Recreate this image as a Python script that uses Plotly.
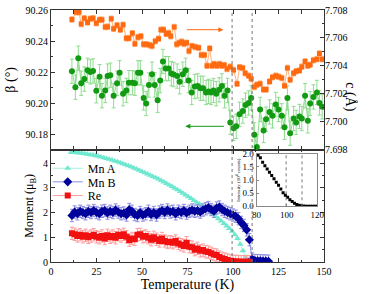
import plotly.graph_objects as go

FONT = "Liberation Serif"

# ---------------- top panel data ----------------
c_T = [11.5, 13.9, 15.4, 16.6, 18.3, 20.1, 21.6, 23.1, 24.9, 26.7, 28.0, 29.8, 31.1, 33.1, 34.4, 36.3,
       38.1, 39.6, 41.4, 42.8, 44.7, 46.1, 47.8, 49.4, 50.9, 52.3, 54.2, 55.5, 57.3, 59.1, 60.4, 61.8,
       63.3, 64.6, 65.8, 67.7, 69.1, 70.6, 71.8, 73.1, 74.5, 75.8, 77.5, 79.3, 81.1, 82.6, 84.3, 85.7,
       87.2, 88.5, 89.7, 91.2, 92.6, 93.9, 95.2, 96.7, 98.5, 100.3, 102.2, 103.6, 105.3, 106.7, 108.6,
       110.0, 111.7, 113.1, 114.9, 116.8, 118.2, 120.1, 121.7, 123.5, 125.0, 126.8, 128.3, 129.9, 131.4,
       133.3, 134.7, 136.5, 137.8, 139.6, 141.1, 142.4, 144.2, 146.1, 147.5, 149.0]
c_val = [7.70732, 7.70784, 7.70784, 7.70699, 7.70741, 7.70711, 7.70737, 7.70741, 7.70706, 7.70730,
         7.70730, 7.70678, 7.70680, 7.70737, 7.70666, 7.70690, 7.70659, 7.70694, 7.70598, 7.70598,
         7.70633, 7.70559, 7.70605, 7.70612, 7.70554, 7.70554, 7.70549, 7.70542, 7.70577, 7.70594,
         7.70659, 7.70659, 7.70629, 7.70636, 7.70612, 7.70678, 7.70554, 7.70565, 7.70573, 7.70558,
         7.70565, 7.70506, 7.70542, 7.70535, 7.70530, 7.70478, 7.70478, 7.70401, 7.70525, 7.70401,
         7.70413, 7.70401, 7.70413, 7.70401, 7.70406, 7.70378, 7.70394, 7.70371, 7.70272, 7.70390,
         7.70385, 7.70347, 7.70330, 7.70307, 7.70249, 7.70265, 7.70272, 7.70230, 7.70230, 7.70288,
         7.70319, 7.70330, 7.70323, 7.70314, 7.70258, 7.70385, 7.70300, 7.70347, 7.70361, 7.70366,
         7.70394, 7.70432, 7.70401, 7.70408, 7.70441, 7.70448, 7.70488, 7.70448]
c_err = 0.0002

beta_T = [11.5, 13.4, 15.0, 16.6, 18.3, 20.1, 21.6, 23.1, 24.9, 26.7, 28.0, 29.8, 31.1, 32.6, 34.4,
          36.3, 37.7, 39.6, 41.4, 42.8, 44.7, 46.1, 47.8, 49.1, 50.9, 52.3, 53.8, 55.5, 57.0, 58.6,
          60.0, 61.5, 63.0, 64.6, 66.1, 67.4, 69.3, 70.7, 72.4, 74.0, 75.6, 77.3, 79.0, 80.6, 82.1,
          83.6, 85.2, 86.6, 87.9, 89.3, 90.8, 92.4, 93.9, 95.4, 97.0, 98.5, 100.3, 101.8, 103.6,
          105.4, 106.9, 108.6, 110.0, 111.7, 113.1, 114.9, 116.8, 118.2, 120.1, 121.7, 123.5, 125.0,
          126.8, 128.3, 129.9, 131.4, 133.3, 134.7, 136.5, 137.8, 139.6, 141.1, 142.4, 144.2, 146.1,
          147.5, 149.0]
beta_val = [90.2207, 90.2105, 90.2291, 90.2130, 90.2157, 90.2213, 90.2203, 90.2209, 90.2082, 90.2172,
            90.2050, 90.2084, 90.2176, 90.2182, 90.2050, 90.2130, 90.2197, 90.2063, 90.2084, 90.2134,
            90.2134, 90.2130, 90.2197, 90.2197, 90.2036, 90.2000, 90.2119, 90.2188, 90.2119, 90.2021,
            90.2147, 90.2270, 90.2224, 90.2224, 90.2192, 90.2186, 90.2176, 90.2140, 90.2188, 90.2213,
            90.2147, 90.2071, 90.2109, 90.2113, 90.2098, 90.2098, 90.2071, 90.2078, 90.2071, 90.2084,
            90.2063, 90.2088, 90.2113, 90.2050, 90.2084, 90.1879, 90.1841, 90.1854, 90.1931, 90.1952,
            90.1990, 90.2004, 90.2036, 90.1799, 90.1722, 90.1962, 90.1827, 90.1900, 90.1946, 90.1921,
            90.1994, 90.1962, 90.1921, 90.1848, 90.2036, 90.1810, 90.1904, 90.1879, 90.1917, 90.1904,
            90.2050, 90.1889, 90.2000, 90.2042, 90.2071, 90.2004, 90.1979]
beta_err = 0.0078

# ---------------- bottom panel data ----------------
mnA_T = [11, 12.5, 14, 15.5, 17, 18.5, 20, 21.5, 23, 24.5, 26, 27.5, 29, 30.5, 32, 33.5, 35, 36.5, 38,
         39.5, 41, 42.5, 44, 45.5, 47, 48.5, 50, 51.5, 53, 54.5, 56, 57.5, 59, 60.5, 62, 63.5, 65, 66.5,
         68, 69.5, 71, 72.5, 74, 75.5, 77, 78.5, 80, 81.5, 83, 84.5, 86, 87.5, 89, 90.5, 92, 93.5, 95,
         96.5, 98, 99.5, 101, 102.5, 104, 105.5, 107, 108.5]
mnA_val = [4.43, 4.43, 4.42, 4.41, 4.40, 4.38, 4.36, 4.34, 4.32, 4.29, 4.27, 4.24, 4.21, 4.18, 4.15, 4.12,
           4.08, 4.05, 4.01, 3.97, 3.93, 3.89, 3.85, 3.80, 3.76, 3.71, 3.66, 3.61, 3.56, 3.51, 3.46, 3.41,
           3.35, 3.29, 3.23, 3.17, 3.11, 3.05, 2.98, 2.92, 2.85, 2.78, 2.71, 2.64, 2.57, 2.49, 2.42, 2.34,
           2.26, 2.18, 2.10, 2.02, 1.93, 1.84, 1.75, 1.66, 1.56, 1.46, 1.35, 1.24, 1.10, 0.95, 0.72, 0.45,
           0.18, 0.02]

mnB_T = [11.5, 13, 14.5, 16, 17.5, 19, 20.5, 22, 23.5, 25, 26.5, 28, 29.5, 31, 32.5, 34, 35.5, 37, 38.5,
         40, 41.5, 43, 44.5, 46, 47.5, 49, 50.5, 52, 53.5, 55, 56.5, 58, 59.5, 61, 62.5, 64, 65.5, 67,
         68.5, 70, 71.5, 73, 74.5, 76, 77.5, 79, 80.5, 82, 83.5, 85, 86.5, 88, 89.5, 91, 92.5, 94, 95.5,
         97, 98.5, 100, 101.5, 103, 104.5, 106, 107.5, 109, 110.5, 112, 113.5, 115, 116.5, 118, 119.5]
mnB_val = [1.88, 2.02, 1.95, 2.05, 2.00, 1.95, 2.05, 2.00, 2.08, 2.00, 1.95, 2.05, 2.08, 1.98, 2.05, 2.00,
           2.10, 2.02, 1.95, 1.98, 1.90, 2.12, 2.05, 1.92, 1.88, 2.00, 1.90, 1.95, 2.05, 1.92, 2.00, 1.90,
           2.02, 2.08, 2.00, 2.10, 2.02, 2.05, 1.95, 2.05, 2.00, 2.08, 1.98, 2.05, 2.10, 2.05, 2.08, 2.02,
           2.10, 2.15, 2.20, 2.12, 2.05, 2.18, 2.22, 2.12, 2.05, 2.00, 1.95, 1.90, 1.85, 1.75, 1.60, 1.48,
           1.30, 0.90, 0.12, 0.06, 0.05, 0.05, 0.04, 0.04, 0.03]
mnB_err = 0.25

re_T = [11.5, 13, 14.5, 16, 17.5, 19, 20.5, 22, 23.5, 25, 26.5, 28, 29.5, 31, 32.5, 34, 35.5, 37, 38.5,
        40, 41.5, 43, 44.5, 46, 47.5, 49, 50.5, 52, 53.5, 55, 56.5, 58, 59.5, 61, 62.5, 64, 65.5, 67,
        68.5, 70, 71.5, 73, 74.5, 76, 77.5, 79, 80.5, 82, 83.5, 85, 86.5, 88, 89.5, 91, 92.5, 94, 95.5,
        97, 98.5, 100, 101.5, 103, 104.5, 106, 107.5, 109]
re_val = [1.16, 1.12, 1.05, 1.10, 1.02, 1.08, 1.00, 1.05, 1.10, 1.02, 0.98, 1.05, 0.95, 1.08, 1.00, 1.05,
          0.98, 1.10, 1.05, 1.12, 1.02, 0.88, 0.95, 0.92, 1.10, 1.12, 1.02, 1.05, 0.98, 0.90, 1.00, 0.92,
          0.85, 0.95, 0.85, 0.80, 0.82, 0.78, 0.85, 0.75, 0.70, 0.65, 0.78, 0.62, 0.60, 0.50, 0.55, 0.45,
          0.48, 0.42, 0.40, 0.35, 0.30, 0.28, 0.20, 0.15, 0.12, 0.08, 0.05, 0.03, 0.02, 0.02, 0.01, 0.01,
          0.01, 0.01]
re_err = 0.25

# ---------------- inset data ----------------
int_T = [81.0, 82.5, 84.0, 85.5, 87.0, 88.5, 90.0, 91.5, 93.0, 94.5, 96.0, 97.5, 99.0, 100.5, 102.0,
         103.5, 105.0, 106.5, 108.0, 109.5, 111.0, 112.5, 114.0, 115.5, 117.0, 118.5, 120.0]
int_val = [1.95, 1.85, 1.68, 1.55, 1.42, 1.30, 1.18, 1.05, 0.92, 0.80, 0.66, 0.52, 0.42, 0.35, 0.25,
           0.18, 0.12, 0.07, 0.04, 0.02, 0.01, 0.0, 0.0, 0.0, 0.0, 0.0, 0.0]

T_transitions = [99.5, 110.5]

# colors
ORANGE, ORANGE_L = "#ff6a10", "#ffb27a"
GREEN, GREEN_L = "#139a13", "#8fdc8f"
AQUA, AQUA_L = "#6ee8cf", "#a8f0e0"
BLUE, BLUE_L = "#00009a", "#8c8ce0"
RED, RED_L = "#f01010", "#ff9c9c"
AX = "#333333"

fig = go.Figure()

# top panel
fig.add_trace(go.Scatter(x=c_T, y=c_val, xaxis="x2", yaxis="y3", mode="lines+markers",
                         line=dict(color=ORANGE_L, width=1),
                         marker=dict(symbol="square", size=5, color=ORANGE),
                         error_y=dict(type="constant", value=c_err, color=ORANGE_L, thickness=1, width=2),
                         showlegend=False))
fig.add_trace(go.Scatter(x=beta_T, y=beta_val, xaxis="x2", yaxis="y2", mode="lines+markers",
                         line=dict(color=GREEN_L, width=1),
                         marker=dict(symbol="circle", size=6, color=GREEN),
                         error_y=dict(type="constant", value=beta_err, color=GREEN_L, thickness=1, width=2),
                         showlegend=False))

# bottom panel
fig.add_trace(go.Scatter(x=mnA_T, y=mnA_val, xaxis="x", yaxis="y", mode="lines+markers", name="Mn A",
                         legend="legend",
                         line=dict(color=AQUA_L, width=1),
                         marker=dict(symbol="triangle-up", size=6, color=AQUA)))
fig.add_trace(go.Scatter(x=mnB_T, y=mnB_val, xaxis="x", yaxis="y", mode="lines+markers", name="Mn B",
                         legend="legend2",
                         line=dict(color=BLUE_L, width=1),
                         marker=dict(symbol="diamond", size=7, color=BLUE),
                         error_y=dict(type="constant", value=mnB_err, color=BLUE_L, thickness=1, width=2)))
fig.add_trace(go.Scatter(x=re_T, y=re_val, xaxis="x", yaxis="y", mode="lines+markers", name="Re",
                         legend="legend3",
                         line=dict(color=RED_L, width=1),
                         marker=dict(symbol="square", size=6, color=RED),
                         error_y=dict(type="constant", value=re_err, color=RED_L, thickness=1, width=2)))

# inset
fig.add_trace(go.Scatter(x=int_T, y=int_val, xaxis="x3", yaxis="y4", mode="markers",
                         marker=dict(symbol="square", size=3, color="black"), showlegend=False))

tickfont = dict(family=FONT, size=10, color="black")
common = dict(showline=True, linecolor=AX, linewidth=1, ticks="inside", tickcolor=AX, ticklen=4,
              showgrid=False, zeroline=False, tickfont=tickfont)

BOT = 0.4457
leg = dict(x=-0.012, xanchor="left", yanchor="middle", bgcolor="rgba(0,0,0,0)",
           font=dict(family=FONT, size=12), itemwidth=30)
fig.update_layout(
    width=373, height=294,
    margin=dict(l=51, r=49, t=5, b=31),
    paper_bgcolor="white", plot_bgcolor="white",
    font=dict(family=FONT, color="black"),
    xaxis=dict(domain=[0, 1], anchor="y", range=[0, 150], dtick=25, mirror="allticks",
               minor=dict(ticks="inside", dtick=12.5, ticklen=2, tickcolor=AX),
               title=dict(text="Temperature (K)", font=dict(family=FONT, size=14), standoff=2), **common),
    yaxis=dict(domain=[0, BOT], anchor="x", range=[0, 4.54], dtick=1, mirror="allticks",
               minor=dict(ticks="inside", dtick=0.5, ticklen=2, tickcolor=AX),
               title=dict(text="Moment (μ<sub>B</sub>)", font=dict(family=FONT, size=12), standoff=6), **common),
    xaxis2=dict(domain=[0, 1], anchor="y2", range=[0, 150], dtick=25, mirror="allticks",
                showticklabels=False,
                minor=dict(ticks="inside", dtick=12.5, ticklen=2, tickcolor=AX), **common),
    yaxis2=dict(domain=[BOT, 1], anchor="x2", range=[90.1704, 90.26], dtick=0.02, mirror=True,
                tickformat=".2f",
                minor=dict(ticks="inside", dtick=0.01, ticklen=2, tickcolor=AX),
                title=dict(text="β (°)", font=dict(family=FONT, size=14), standoff=6), **common),
    yaxis3=dict(overlaying="y2", side="right", anchor="x2", range=[7.698, 7.708], dtick=0.002,
                tickformat=".3f", showline=False, ticks="inside", tickcolor=AX, ticklen=4,
                showgrid=False, zeroline=False, tickfont=tickfont,
                minor=dict(ticks="inside", dtick=0.001, ticklen=2, tickcolor=AX)),
    xaxis3=dict(domain=[0.753, 0.975], anchor="y4", range=[80, 120], tickvals=[80, 100, 120],
                mirror=True, showline=True, linecolor="#888", linewidth=1, ticks="inside",
                tickcolor="#888", ticklen=2, showgrid=False, zeroline=False,
                tickfont=dict(family=FONT, size=9, color="black")),
    yaxis4=dict(domain=[0.221, 0.429], anchor="x3", range=[0, 2.0], tickvals=[0, 0.5, 1.0, 1.5, 2.0],
                tickformat=".1f", mirror=True, showline=True, linecolor="#888", linewidth=1,
                ticks="inside", tickcolor="#888", ticklen=2, showgrid=False, zeroline=False,
                tickfont=dict(family=FONT, size=9, color="black"),
                title=dict(text="Intensity (10<sup>4</sup> counts)", font=dict(family=FONT, size=5),
                           standoff=1)),
    legend=dict(y=0.372, **leg),
    legend2=dict(y=0.318, **leg),
    legend3=dict(y=0.264, **leg),
)

shapes = []
for t in T_transitions:
    shapes.append(dict(type="line", xref="x", yref="paper", x0=t, x1=t, y0=0, y1=1,
                       line=dict(color="#777", width=1, dash="dot"), layer="above"))
# inset background
shapes.append(dict(type="rect", xref="x3 domain", yref="y4 domain", x0=0, x1=1, y0=0, y1=1,
                   fillcolor="white", line=dict(width=0), layer="below"))
for t in [99.5, 110]:
    shapes.append(dict(type="line", xref="x3", yref="y4 domain", x0=t, x1=t, y0=0, y1=1,
                       line=dict(color="#777", width=1, dash="dot")))
fig.update_layout(shapes=shapes)

annotations = [
    dict(x=94.7, y=7.70659, xref="x2", yref="y3", ax=73.8, ay=7.70659, axref="x2", ayref="y3",
         showarrow=True, arrowhead=2, arrowsize=1, arrowwidth=1, arrowcolor=ORANGE, text=""),
    dict(x=73.8, y=90.1854, xref="x2", yref="y2", ax=95.8, ay=90.1854, axref="x2", ayref="y2",
         showarrow=True, arrowhead=2, arrowsize=1, arrowwidth=1, arrowcolor=GREEN, text=""),
    dict(x=1.132, y=(1 + BOT) / 2, xref="paper", yref="paper", text="c (Å)", showarrow=False,
         textangle=90, font=dict(family=FONT, size=14, color="black")),
]
fig.update_layout(annotations=annotations)

fig.write_html("out.html", config={"displayModeBar": False},
               post_script="document.body.style.margin='0';")
